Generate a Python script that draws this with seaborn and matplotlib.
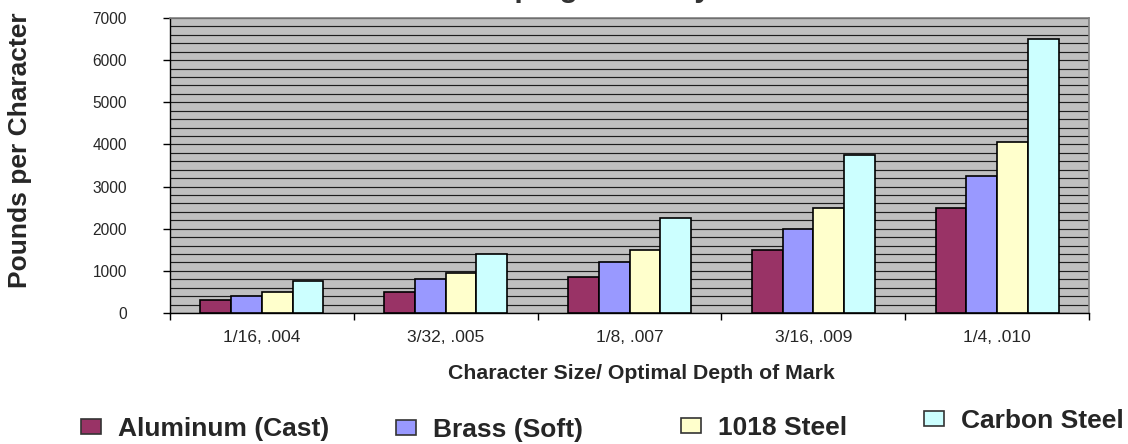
import pandas as pd
import seaborn as sns
import matplotlib.pyplot as plt
from matplotlib.patches import Patch
from matplotlib.ticker import MultipleLocator, FixedLocator
from matplotlib.transforms import ScaledTranslation

# ---------------- data ----------------
categories = ["1/16, .004", "3/32, .005", "1/8, .007", "3/16, .009", "1/4, .010"]
materials = ["Aluminum (Cast)", "Brass (Soft)", "1018 Steel", "Carbon Steel"]
aluminum_cast = [300, 500, 850, 1500, 2500]
brass_soft = [400, 800, 1200, 2000, 3250]
steel_1018 = [500, 950, 1500, 2500, 4050]
carbon_steel = [750, 1400, 2250, 3750, 6500]
colors = ["#993366", "#9999FF", "#FFFFCC", "#CCFFFF"]

df = pd.DataFrame({
    "size": categories * len(materials),
    "material": [m for m in materials for _ in categories],
    "pounds": aluminum_cast + brass_soft + steel_1018 + carbon_steel,
})

# ---------------- style ----------------
sns.set_style("white")
plt.rcParams["font.family"] = ["Liberation Sans", "DejaVu Sans"]

W, H = 1128, 444
fig = plt.figure(figsize=(W / 100, H / 100), dpi=100)
left, right, top, bottom = 170, 1089, 18, 313
ax = fig.add_axes([left / W, 1 - bottom / H, (right - left) / W, (bottom - top) / H])
ax.set_facecolor("#C0C0C0")

sns.barplot(data=df, x="size", y="pounds", hue="material", hue_order=materials,
            palette=colors, saturation=1, width=0.67, edgecolor="black", linewidth=1.2,
            ax=ax, zorder=3, legend=False)

# axes / grid
ax.set_ylim(0, 7000)
ax.set_xlim(-0.5, len(categories) - 0.5)
ax.yaxis.set_major_locator(MultipleLocator(1000))
ax.yaxis.set_minor_locator(MultipleLocator(200))
ax.grid(which="both", axis="y", color="#1e1e1e", linewidth=0.85, zorder=0)
ax.grid(which="both", axis="x", visible=False)
ax.set_axisbelow(True)

ax.xaxis.set_minor_locator(FixedLocator([i - 0.5 for i in range(len(categories) + 1)]))
ax.tick_params(axis="x", which="major", length=0, pad=12, labelsize=12.5)
ax.tick_params(axis="x", which="minor", length=5, width=1, color="black", direction="out", bottom=True)
ax.tick_params(axis="y", which="major", length=5, width=1, color="black", direction="out",
               left=True, pad=26, labelsize=11.2)
ax.tick_params(axis="y", which="minor", length=0)

# the "0" label sits further right in the original
zero_lab = ax.yaxis.get_major_ticks()[0].label1
zero_lab.set_transform(zero_lab.get_transform() + ScaledTranslation(0.2, 0, fig.dpi_scale_trans))

for s in ["left", "bottom"]:
    ax.spines[s].set_color("black")
    ax.spines[s].set_linewidth(1)
for s in ["top", "right"]:
    ax.spines[s].set_color("#808080")
    ax.spines[s].set_linewidth(1.2)

ax.set_xlabel("Character Size/ Optimal Depth of Mark", fontsize=15.3, fontweight="bold")
ax.set_ylabel("Pounds per Character", fontsize=19, fontweight="bold")
ax.xaxis.set_label_coords((641 - left) / (right - left), (bottom - 364) / (bottom - top))
ax.yaxis.set_label_coords((32 - left) / (right - left), (bottom - 150) / (bottom - top))

# title sits above the canvas, only its descenders show
fig.text(637 / W, 1 + 3.3 / H, "Stamping Force by Material", ha="center", va="baseline",
         fontsize=21.6, fontweight="bold", color="#333333")

# legend entries placed one by one like the original
leg_pos = [(81, 429), (396, 430), (681, 428), (924, 421)]
for mat, col, (lx, ly) in zip(materials, colors, leg_pos):
    handle = Patch(facecolor=col, edgecolor="#333333", linewidth=1.2)
    fig.legend([handle], [mat], loc="center left", bbox_to_anchor=(lx / W, 1 - ly / H),
               frameon=False, prop={"size": 19, "weight": "bold"},
               handlelength=0.77, handleheight=0.47, handletextpad=0.65,
               borderpad=0, borderaxespad=0)

plt.savefig("out.png", dpi=100)
